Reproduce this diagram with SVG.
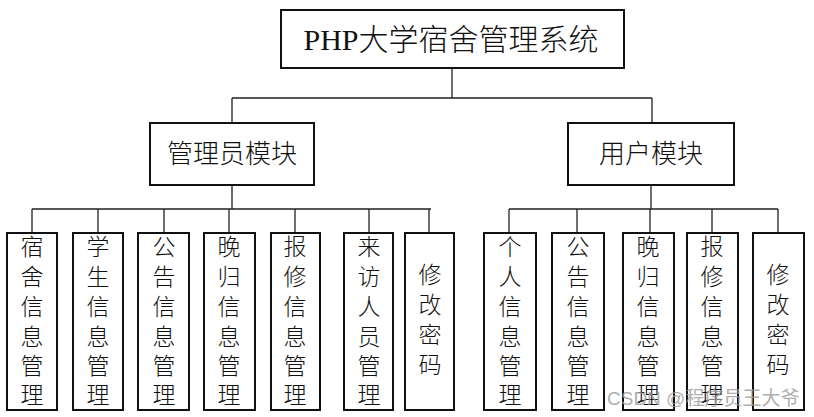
<svg xmlns="http://www.w3.org/2000/svg" width="814" height="417" viewBox="0 0 814 417">
<style>
.box{fill:#fff;stroke:#111;stroke-width:2}
.ln{fill:none;stroke:#222;stroke-width:1.3}
.t{font-family:"Liberation Serif","Noto Sans CJK SC",serif;font-weight:300;fill:#111;text-anchor:middle;dominant-baseline:central}
.v{font-size:23px}
.wm{font-family:"Liberation Sans","Noto Sans CJK SC",sans-serif;font-size:19px;fill:#9a9a9a;opacity:0.8}
</style>
<rect width="814" height="417" fill="#fff"/>
<g id="connectors">
<path class="ln" d="M452 68V98M232 98H652M232 98V123M652 98V123"/>
<path class="ln" d="M232 185V209M32 209H431M32 209V233M98 209V233M164 209V233M229 209V233M295 209V233M369 209V233M429 209V233"/>
<path class="ln" d="M651 185V209M509 209H778M509 209V233M577 209V233M650 209V233M712 209V233M778 209V233"/>
</g>
<g id="root"><rect class="box" x="281" y="10" width="343" height="58"/><text class="t" x="451" y="39" font-size="30" font-weight="400">PHP大学宿舍管理系统</text></g>
<g id="admin"><rect class="box" x="150" y="123" width="164" height="62"/><text class="t" x="232" y="154" font-size="26">管理员模块</text></g>
<g id="user"><rect class="box" x="568" y="123" width="166" height="62"/><text class="t" x="651" y="154" font-size="26">用户模块</text></g>
<g id="a1"><rect class="box" x="7" y="233" width="50" height="177"/><text class="t v"><tspan x="32" y="247">宿</tspan><tspan x="32" y="277">舍</tspan><tspan x="32" y="307">信</tspan><tspan x="32" y="337">息</tspan><tspan x="32" y="366">管</tspan><tspan x="32" y="395">理</tspan></text></g>
<g id="a2"><rect class="box" x="73" y="233" width="50" height="177"/><text class="t v"><tspan x="98" y="247">学</tspan><tspan x="98" y="277">生</tspan><tspan x="98" y="307">信</tspan><tspan x="98" y="337">息</tspan><tspan x="98" y="366">管</tspan><tspan x="98" y="395">理</tspan></text></g>
<g id="a3"><rect class="box" x="138" y="233" width="51" height="177"/><text class="t v"><tspan x="164" y="247">公</tspan><tspan x="164" y="277">告</tspan><tspan x="164" y="307">信</tspan><tspan x="164" y="337">息</tspan><tspan x="164" y="366">管</tspan><tspan x="164" y="395">理</tspan></text></g>
<g id="a4"><rect class="box" x="204" y="233" width="51" height="177"/><text class="t v"><tspan x="229" y="247">晚</tspan><tspan x="229" y="277">归</tspan><tspan x="229" y="307">信</tspan><tspan x="229" y="337">息</tspan><tspan x="229" y="366">管</tspan><tspan x="229" y="395">理</tspan></text></g>
<g id="a5"><rect class="box" x="271" y="233" width="49" height="177"/><text class="t v"><tspan x="295" y="247">报</tspan><tspan x="295" y="277">修</tspan><tspan x="295" y="307">信</tspan><tspan x="295" y="337">息</tspan><tspan x="295" y="366">管</tspan><tspan x="295" y="395">理</tspan></text></g>
<g id="a6"><rect class="box" x="344" y="233" width="49" height="177"/><text class="t v"><tspan x="369" y="247">来</tspan><tspan x="369" y="277">访</tspan><tspan x="369" y="307">人</tspan><tspan x="369" y="337">员</tspan><tspan x="369" y="366">管</tspan><tspan x="369" y="395">理</tspan></text></g>
<g id="a7"><rect class="box" x="405" y="233" width="49" height="177"/><text class="t v"><tspan x="430" y="275">修</tspan><tspan x="430" y="305">改</tspan><tspan x="430" y="335">密</tspan><tspan x="430" y="365">码</tspan></text></g>
<g id="u1"><rect class="box" x="484" y="233" width="52" height="177"/><text class="t v"><tspan x="510" y="247">个</tspan><tspan x="510" y="277">人</tspan><tspan x="510" y="307">信</tspan><tspan x="510" y="337">息</tspan><tspan x="510" y="366">管</tspan><tspan x="510" y="395">理</tspan></text></g>
<g id="u2"><rect class="box" x="552" y="233" width="52" height="177"/><text class="t v"><tspan x="578" y="247">公</tspan><tspan x="578" y="277">告</tspan><tspan x="578" y="307">信</tspan><tspan x="578" y="337">息</tspan><tspan x="578" y="366">管</tspan><tspan x="578" y="395">理</tspan></text></g>
<g id="u3"><rect class="box" x="623" y="233" width="51" height="177"/><text class="t v"><tspan x="648" y="247">晚</tspan><tspan x="648" y="277">归</tspan><tspan x="648" y="307">信</tspan><tspan x="648" y="337">息</tspan><tspan x="648" y="366">管</tspan><tspan x="648" y="395">理</tspan></text></g>
<g id="u4"><rect class="box" x="687" y="233" width="51" height="177"/><text class="t v"><tspan x="712" y="247">报</tspan><tspan x="712" y="277">修</tspan><tspan x="712" y="307">信</tspan><tspan x="712" y="337">息</tspan><tspan x="712" y="366">管</tspan><tspan x="712" y="395">理</tspan></text></g>
<g id="u5"><rect class="box" x="753" y="233" width="51" height="177"/><text class="t v"><tspan x="778" y="275">修</tspan><tspan x="778" y="305">改</tspan><tspan x="778" y="335">密</tspan><tspan x="778" y="365">码</tspan></text></g>
<text class="wm" x="607" y="405">CSDN @程序员王大爷</text>
</svg>
